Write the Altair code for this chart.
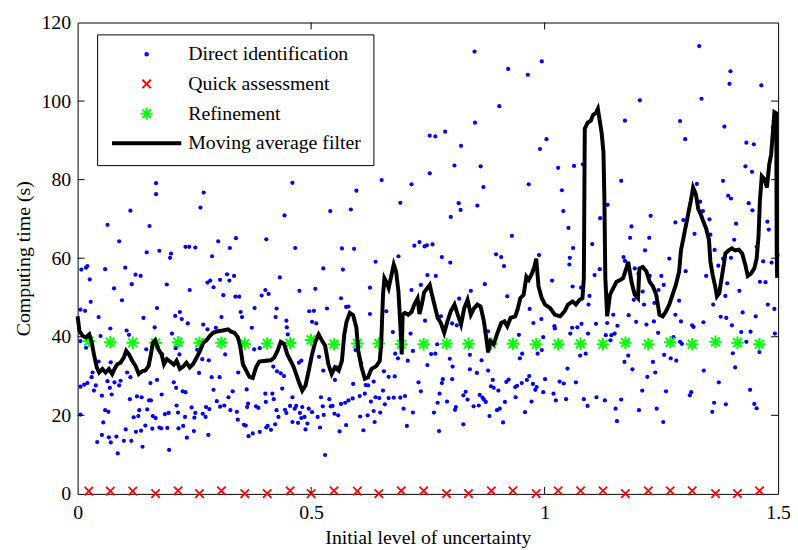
import altair as alt
import pandas as pd

# ---------------- data ----------------
series_names = ["Direct identification", "Quick assessment", "Refinement", "Moving average filter"]
series_colors = ["#0000ff", "#ff0000", "#00ff00", "#000000"]

x_ticks = [0, 0.5, 1, 1.5]
y_ticks = [0, 20, 40, 60, 80, 100, 120]

# x positions of the quick-assessment / refinement runs
run_x = [0.024, 0.070, 0.118, 0.167, 0.215, 0.261, 0.308, 0.358, 0.406, 0.455, 0.500,
         0.549, 0.599, 0.645, 0.693, 0.741, 0.790, 0.837, 0.886, 0.932, 0.982, 1.029,
         1.077, 1.125, 1.173, 1.222, 1.269, 1.316, 1.366, 1.413, 1.460]
quick_y = [0.7, 0.7, 0.7, 0.05, 0.8, 0.05, 0.8, 0.05, 0.05, 0.8, 0.05, 0.8, 0.7, 0.05,
           0.8, 0.8, 0.05, 0.05, 0.8, 0.8, 0.05, 0.8, 0.8, 0.8, 0.05, 0.8, 0.8, 0.8,
           0.05, 0.05, 0.8]
refine_y = [38.9, 38.6, 38.5, 38.4, 38.6, 38.5, 38.5, 38.2, 38.3, 38.4, 39.2, 38.1, 38.3,
            38.3, 38.1, 38.1, 38.2, 38.2, 38.2, 38.2, 38.1, 38.1, 38.2, 38.1, 38.5, 38.1,
            38.6, 38.1, 38.7, 38.5, 38.1]

# direct identification samples, (x, y) per region of the plot
direct_upper_left = [
    (0.168, 79.1), (0.168, 76.3), (0.270, 76.7), (0.113, 72.1), (0.263, 72.9), (0.064, 68.5),
    (0.154, 68.2), (0.089, 64.3), (0.301, 64.3), (0.339, 65.1), (0.326, 62.6), (0.148, 61.5),
    (0.175, 61.9), (0.200, 61.2), (0.231, 62.9), (0.239, 62.9), (0.252, 62.7),
    (0.580, 84.6), (0.460, 79.2), (0.651, 79.9), (0.715, 78.8), (0.597, 77.2), (0.691, 74.1),
    (0.443, 70.9), (0.541, 72.0), (0.585, 72.4), (0.404, 64.8), (0.466, 62.6), (0.566, 62.5),
    (0.592, 62.4), (0.721, 63.2), (0.732, 64.1), (0.743, 63.0), (0.748, 63.3)]
direct_upper_right = [
    (0.850, 112.6), (0.922, 108.2), (0.994, 110.1), (0.964, 106.7), (0.903, 98.7), (0.851, 94.5),
    (0.754, 91.2), (0.766, 91.0), (0.787, 92.2), (0.821, 88.6), (1.004, 90.3), (0.990, 87.8),
    (0.807, 83.6), (0.863, 83.4), (0.754, 81.6), (1.029, 83.0), (1.063, 83.5), (1.082, 83.9),
    (0.869, 78.1), (0.966, 78.8), (1.037, 77.3), (0.816, 74.0), (0.820, 72.3), (0.856, 73.4),
    (0.799, 70.5), (1.040, 72.0), (1.051, 67.7), (1.119, 70.2), (0.930, 65.7), (0.760, 63.5),
    (0.896, 61.0), (0.988, 60.8), (1.061, 62.6), (1.102, 63.6),
    (1.331, 114.0), (1.398, 107.6), (1.396, 104.4), (1.464, 104.0), (1.204, 100.2), (1.336, 100.6),
    (1.172, 95.0), (1.290, 94.9), (1.385, 93.5), (1.301, 90.3), (1.432, 89.4), (1.448, 89.0),
    (1.489, 93.3), (1.430, 83.4), (1.444, 82.0), (1.164, 79.7), (1.382, 79.7), (1.326, 78.9),
    (1.135, 73.6), (1.393, 75.9), (1.399, 75.2), (1.333, 74.4), (1.437, 74.0), (1.445, 72.2),
    (1.339, 72.0), (1.227, 70.8), (1.297, 69.7), (1.280, 69.1), (1.353, 69.9), (1.410, 68.8),
    (1.186, 68.1), (1.477, 69.3), (1.480, 67.3), (1.183, 65.2), (1.224, 65.2), (1.321, 66.2),
    (1.355, 66.0), (1.406, 64.7), (1.215, 62.0), (1.364, 62.1), (1.454, 62.9), (1.499, 60.8)]
direct_lower_a = [
    (0.198, 60.1), (0.288, 60.5), (0.008, 57.1), (0.018, 57.6), (0.021, 58.0), (0.059, 57.2),
    (0.026, 54.6), (0.102, 57.6), (0.124, 55.8), (0.135, 55.5), (0.116, 53.4), (0.078, 52.3),
    (0.191, 53.3), (0.095, 49.3), (0.028, 48.9), (0.240, 51.9), (0.278, 53.8), (0.284, 54.3),
    (0.291, 52.6), (0.305, 54.5), (0.320, 55.9), (0.325, 54.3), (0.335, 55.5), (0.312, 50.6),
    (0.338, 50.2), (0.346, 50.2), (0.379, 47.3), (0.006, 46.9), (0.016, 46.6), (0.045, 45.0),
    (0.141, 44.8), (0.170, 47.3), (0.209, 45.3), (0.219, 46.3), (0.223, 44.5), (0.236, 43.4),
    (0.269, 43.1), (0.308, 45.0), (0.349, 46.3), (0.352, 45.0), (0.070, 42.1), (0.105, 41.6),
    (0.110, 40.5), (0.165, 42.4), (0.202, 40.8), (0.278, 41.9), (0.296, 42.3), (0.373, 42.3),
    (0.049, 40.2), (0.006, 38.9), (0.018, 37.2), (0.045, 33.7), (0.071, 33.5), (0.147, 36.8),
    (0.181, 35.5), (0.191, 34.1), (0.210, 37.1), (0.218, 35.5), (0.256, 36.7), (0.267, 34.3),
    (0.281, 34.0), (0.316, 35.5), (0.032, 30.9), (0.030, 29.7), (0.021, 28.2), (0.006, 27.3),
    (0.014, 27.8), (0.039, 27.6), (0.064, 28.7), (0.079, 28.4), (0.092, 28.8), (0.089, 27.6),
    (0.106, 30.9), (0.113, 29.7), (0.170, 29.0), (0.156, 28.2), (0.206, 28.4), (0.211, 27.0),
    (0.225, 26.1), (0.231, 25.9), (0.260, 30.8), (0.287, 29.7), (0.304, 29.7), (0.332, 26.1),
    (0.344, 30.9), (0.362, 26.6), (0.035, 26.3), (0.052, 25.0), (0.069, 27.0), (0.073, 25.3),
    (0.112, 24.1), (0.127, 24.8), (0.137, 24.6), (0.153, 23.8), (0.157, 23.8), (0.180, 25.3),
    (0.212, 22.5), (0.244, 22.0), (0.275, 22.1), (0.282, 21.6), (0.291, 26.5), (0.298, 23.6),
    (0.305, 22.2), (0.314, 22.5), (0.323, 24.6), (0.327, 21.3), (0.341, 20.9), (0.365, 23.0),
    (0.363, 22.1), (0.006, 20.2), (0.059, 21.3), (0.066, 20.9), (0.055, 18.2), (0.120, 19.5),
    (0.130, 19.8), (0.132, 21.3), (0.149, 21.5), (0.161, 19.8), (0.167, 19.3), (0.187, 20.3),
    (0.195, 20.6), (0.215, 20.7), (0.230, 19.6), (0.250, 19.4), (0.252, 20.6), (0.268, 20.4),
    (0.274, 19.6), (0.343, 18.9), (0.103, 16.4), (0.125, 15.8), (0.136, 16.1), (0.145, 17.4),
    (0.160, 16.6), (0.175, 16.9), (0.179, 16.7), (0.192, 16.8), (0.216, 16.7), (0.226, 17.3),
    (0.249, 16.0), (0.280, 15.0), (0.356, 17.6), (0.360, 17.4), (0.375, 15.4), (0.366, 14.7),
    (0.052, 15.0), (0.067, 14.4), (0.083, 14.6), (0.071, 13.1), (0.042, 13.2), (0.099, 13.5),
    (0.115, 13.5), (0.139, 12.0), (0.086, 10.3), (0.196, 11.2), (0.234, 14.3)]
direct_lower_b = [
    (0.687, 60.5), (0.638, 59.1), (0.526, 57.4), (0.568, 57.1), (0.433, 55.1), (0.749, 55.7),
    (0.394, 50.5), (0.402, 51.9), (0.409, 50.9), (0.475, 51.7), (0.509, 52.2), (0.626, 52.5),
    (0.564, 49.8), (0.426, 47.2), (0.424, 45.0), (0.447, 44.1), (0.448, 42.4), (0.450, 40.6),
    (0.496, 46.5), (0.506, 46.6), (0.502, 43.8), (0.511, 43.4), (0.534, 47.2), (0.575, 47.6),
    (0.580, 47.7), (0.626, 45.8), (0.661, 46.5), (0.715, 51.9), (0.735, 53.2), (0.744, 44.1),
    (0.713, 40.8), (0.675, 41.2), (0.378, 36.8), (0.390, 37.1), (0.419, 32.4), (0.427, 31.2),
    (0.435, 30.7), (0.442, 30.0), (0.474, 33.4), (0.479, 33.9), (0.517, 34.9), (0.526, 31.4),
    (0.555, 32.2), (0.595, 36.6), (0.607, 33.3), (0.551, 29.0), (0.590, 28.0), (0.617, 27.7),
    (0.622, 27.6), (0.634, 28.6), (0.656, 31.2), (0.666, 29.8), (0.679, 29.9), (0.680, 35.7),
    (0.686, 34.5), (0.707, 33.9), (0.718, 36.4), (0.749, 32.8), (0.730, 28.4), (0.735, 26.1),
    (0.666, 24.4), (0.677, 24.5), (0.691, 24.5), (0.701, 24.9), (0.402, 25.5), (0.417, 25.5),
    (0.420, 24.1), (0.438, 26.8), (0.460, 24.6), (0.468, 22.4), (0.455, 22.4), (0.465, 21.7),
    (0.444, 21.4), (0.447, 20.6), (0.481, 22.1), (0.495, 21.7), (0.502, 20.8), (0.521, 24.6),
    (0.539, 24.1), (0.525, 22.3), (0.542, 22.3), (0.546, 22.4), (0.550, 20.4), (0.564, 22.9),
    (0.573, 23.2), (0.580, 23.8), (0.589, 24.3), (0.604, 24.9), (0.615, 25.5), (0.628, 23.5),
    (0.638, 24.6), (0.646, 24.4), (0.654, 26.3), (0.658, 22.8), (0.634, 21.1), (0.648, 20.7),
    (0.698, 21.7), (0.718, 20.7), (0.382, 22.3), (0.387, 21.9), (0.403, 23.4), (0.426, 21.3),
    (0.430, 19.6), (0.476, 20.6), (0.479, 19.3), (0.460, 18.3), (0.472, 18.1), (0.486, 19.6),
    (0.492, 17.9), (0.488, 16.4), (0.514, 19.6), (0.519, 16.9), (0.527, 20.1), (0.558, 20.0),
    (0.561, 15.9), (0.575, 17.5), (0.605, 19.7), (0.621, 20.0), (0.636, 18.3), (0.612, 16.2),
    (0.390, 15.8), (0.404, 16.9), (0.407, 17.3), (0.423, 17.7), (0.414, 16.3), (0.705, 17.3),
    (0.530, 9.9)]
direct_lower_c = [
    (0.780, 60.3), (0.798, 58.9), (0.907, 60.3), (0.913, 58.0), (1.054, 60.1), (1.053, 58.4),
    (1.118, 57.2), (1.107, 55.7), (0.767, 55.5), (0.872, 53.4), (1.016, 54.3), (1.060, 52.8),
    (1.078, 52.5), (0.842, 51.7), (0.920, 50.3), (0.817, 49.7), (1.096, 50.4), (1.094, 48.2),
    (0.968, 47.1), (0.778, 45.2), (0.802, 43.4), (0.812, 42.9), (0.976, 43.5), (0.993, 44.5),
    (1.021, 42.7), (1.022, 42.1), (1.059, 42.3), (1.070, 42.4), (1.079, 43.3), (1.055, 40.8),
    (1.093, 40.8), (1.110, 43.3), (0.945, 40.5), (0.879, 41.4), (0.770, 38.1), (0.757, 35.6),
    (0.766, 35.7), (0.797, 34.4), (0.803, 32.4), (0.839, 37.7), (0.840, 35.4), (0.865, 34.0),
    (0.855, 30.8), (0.840, 31.7), (0.879, 31.4), (0.889, 29.0), (0.918, 28.5), (0.923, 29.1),
    (0.962, 29.0), (0.967, 30.0), (0.937, 27.2), (0.941, 27.5), (0.951, 28.2), (0.952, 35.7),
    (0.947, 34.5), (0.985, 35.7), (0.994, 36.6), (0.997, 39.9), (1.076, 35.2), (1.088, 35.7),
    (1.049, 31.9), (1.067, 28.4), (1.032, 28.6), (1.041, 28.1), (1.001, 29.2), (0.975, 28.0),
    (0.983, 27.2), (0.980, 26.5), (0.997, 25.9), (1.019, 25.5), (1.024, 23.8), (1.046, 24.1),
    (1.084, 24.1), (1.092, 22.4), (1.111, 24.6), (1.129, 23.8), (0.885, 27.4), (0.891, 27.0),
    (0.901, 26.3), (0.861, 25.2), (0.867, 24.5), (0.870, 24.0), (0.874, 23.4), (0.848, 22.3),
    (0.859, 22.5), (0.826, 25.1), (0.831, 26.0), (0.835, 24.0), (0.775, 25.5), (0.771, 23.2),
    (0.791, 23.5), (0.802, 29.2), (0.782, 29.2), (0.780, 28.2), (0.763, 20.7), (0.810, 22.1),
    (0.808, 21.4), (0.915, 23.4), (0.938, 24.6), (0.972, 23.5), (0.904, 21.7), (0.898, 21.3),
    (0.882, 19.8), (0.911, 18.2), (0.958, 20.8), (0.826, 17.7), (0.774, 16.0)]
direct_lower_d = [
    (1.169, 60.3), (1.172, 59.3), (1.267, 59.9), (1.193, 57.4), (1.201, 56.1), (1.225, 55.5),
    (1.250, 55.5), (1.255, 53.2), (1.244, 51.9), (1.210, 51.5), (1.191, 49.4), (1.213, 48.2),
    (1.235, 48.6), (1.288, 49.2), (1.302, 56.7), (1.346, 55.5), (1.372, 58.1), (1.382, 59.9),
    (1.399, 60.1), (1.391, 53.6), (1.387, 50.4), (1.417, 51.7), (1.468, 59.2), (1.486, 58.9),
    (1.461, 54.0), (1.473, 53.9), (1.478, 48.2), (1.492, 47.1), (1.361, 48.2), (1.424, 46.2),
    (1.452, 45.2), (1.377, 45.1), (1.389, 44.8), (1.401, 42.9), (1.421, 41.2), (1.441, 41.3),
    (1.432, 38.7), (1.493, 40.8), (1.460, 36.1), (1.403, 35.8), (1.408, 32.2), (1.341, 31.4),
    (1.373, 28.4), (1.316, 42.9), (1.319, 42.5), (1.340, 43.7), (1.292, 43.9), (1.280, 45.6),
    (1.218, 43.1), (1.234, 43.9), (1.196, 43.8), (1.180, 45.5), (1.147, 45.6), (1.134, 43.5),
    (1.156, 42.8), (1.131, 40.4), (1.143, 40.4), (1.150, 40.8), (1.141, 39.1), (1.243, 41.0),
    (1.276, 39.9), (1.290, 38.7), (1.294, 38.2), (1.256, 35.4), (1.270, 34.5), (1.282, 33.9),
    (1.232, 33.6), (1.220, 29.8), (1.237, 30.9), (1.188, 31.7), (1.171, 33.6), (1.179, 35.2),
    (1.152, 21.7), (1.164, 24.0), (1.155, 18.5), (1.202, 21.3), (1.240, 21.7), (1.254, 18.3),
    (1.209, 26.3), (1.260, 26.1), (1.314, 25.9), (1.311, 25.1), (1.363, 23.2), (1.359, 20.9),
    (1.388, 22.8), (1.440, 26.5), (1.449, 22.9), (1.454, 21.8)]

# moving average filter trace
moving_avg = [
    (0.000, 45.2), (0.004, 41.4), (0.011, 40.2), (0.018, 39.8), (0.025, 40.6), (0.030, 38.7),
    (0.035, 35.5), (0.041, 32.2), (0.046, 30.9), (0.053, 31.8), (0.060, 30.9), (0.067, 31.8),
    (0.074, 30.5), (0.079, 31.8), (0.085, 33.0), (0.092, 33.4), (0.099, 34.7), (0.104, 36.4),
    (0.110, 35.5), (0.117, 33.9), (0.124, 32.6), (0.131, 30.5), (0.138, 31.2), (0.145, 31.4),
    (0.152, 32.6), (0.157, 35.5), (0.161, 38.5), (0.166, 39.1), (0.173, 36.8), (0.180, 35.5),
    (0.185, 33.0), (0.191, 34.3), (0.198, 33.7), (0.206, 32.9), (0.212, 33.9), (0.219, 31.8),
    (0.226, 32.4), (0.233, 33.4), (0.240, 32.2), (0.247, 33.0), (0.255, 34.7), (0.262, 36.4),
    (0.269, 38.5), (0.276, 39.1), (0.283, 40.2), (0.290, 41.0), (0.300, 41.4), (0.311, 41.6),
    (0.322, 41.9), (0.329, 41.3), (0.336, 41.0), (0.343, 39.9), (0.348, 37.7), (0.354, 33.0),
    (0.361, 31.4), (0.368, 29.8), (0.375, 29.5), (0.382, 32.2), (0.389, 33.7), (0.403, 33.9),
    (0.414, 34.0), (0.421, 34.7), (0.428, 36.4), (0.435, 38.7), (0.442, 38.2), (0.449, 35.5),
    (0.456, 33.9), (0.463, 32.2), (0.474, 28.4), (0.481, 26.3), (0.488, 27.6), (0.495, 31.4),
    (0.502, 35.5), (0.509, 38.7), (0.516, 40.6), (0.523, 39.1), (0.530, 37.7), (0.537, 33.0),
    (0.544, 30.5), (0.551, 32.2), (0.559, 31.4), (0.566, 33.9), (0.571, 40.6), (0.576, 43.9),
    (0.583, 46.1), (0.590, 45.5), (0.597, 42.3), (0.601, 36.4), (0.608, 32.2), (0.615, 29.3),
    (0.622, 29.7), (0.629, 31.8), (0.640, 32.6), (0.647, 33.9), (0.650, 38.1), (0.654, 50.7),
    (0.657, 54.9), (0.661, 54.0), (0.666, 52.4), (0.672, 55.7), (0.677, 58.4), (0.682, 56.6),
    (0.687, 51.5), (0.691, 43.1), (0.694, 35.5), (0.696, 45.6), (0.701, 46.1), (0.708, 45.6),
    (0.715, 46.3), (0.721, 48.2), (0.728, 49.8), (0.732, 45.8), (0.737, 48.2), (0.742, 51.3),
    (0.749, 52.4), (0.754, 53.2), (0.758, 51.1), (0.764, 48.2), (0.771, 44.8), (0.778, 43.5),
    (0.785, 41.0), (0.792, 43.9), (0.799, 46.5), (0.807, 48.2), (0.814, 45.6), (0.821, 43.1),
    (0.828, 47.3), (0.835, 49.4), (0.842, 45.6), (0.849, 47.3), (0.856, 48.2), (0.863, 47.7),
    (0.870, 43.9), (0.876, 38.9), (0.879, 36.0), (0.884, 38.9), (0.891, 38.1), (0.898, 40.6),
    (0.907, 43.5), (0.914, 43.9), (0.920, 42.7), (0.927, 44.8), (0.937, 45.2), (0.942, 46.9),
    (0.948, 49.8), (0.955, 50.7), (0.961, 55.3), (0.966, 54.5), (0.973, 56.1), (0.978, 57.8),
    (0.982, 59.9), (0.987, 52.8), (0.994, 49.8), (1.001, 48.2), (1.012, 47.3), (1.022, 45.6),
    (1.033, 45.2), (1.043, 46.5), (1.050, 48.2), (1.060, 49.0), (1.067, 48.2), (1.075, 49.4),
    (1.081, 49.8), (1.084, 54.9), (1.086, 93.0), (1.092, 94.5), (1.099, 95.0), (1.104, 96.5),
    (1.110, 97.0), (1.114, 98.0), (1.118, 95.0), (1.122, 92.0), (1.126, 87.0), (1.128, 75.0),
    (1.130, 55.0), (1.134, 45.2), (1.140, 50.7), (1.147, 52.4), (1.154, 54.0), (1.161, 54.4),
    (1.168, 54.9), (1.175, 57.4), (1.179, 59.1), (1.186, 54.0), (1.193, 50.7), (1.200, 49.8),
    (1.203, 57.4), (1.210, 57.8), (1.218, 56.6), (1.225, 54.0), (1.232, 52.8), (1.239, 50.7),
    (1.246, 45.6), (1.253, 45.2), (1.260, 46.5), (1.267, 48.2), (1.274, 50.7), (1.281, 53.2),
    (1.288, 56.6), (1.292, 62.0), (1.299, 66.2), (1.306, 70.4), (1.313, 74.6), (1.318, 78.0),
    (1.324, 76.3), (1.329, 72.5), (1.334, 71.3), (1.339, 69.6), (1.346, 67.5), (1.352, 64.6),
    (1.355, 59.1), (1.360, 55.7), (1.366, 52.4), (1.369, 50.3), (1.374, 51.1), (1.379, 54.9),
    (1.384, 58.6), (1.387, 61.2), (1.394, 62.0), (1.401, 62.5), (1.408, 62.0), (1.416, 62.2),
    (1.423, 61.2), (1.430, 58.2), (1.435, 55.5), (1.442, 56.1), (1.449, 57.4), (1.454, 59.9),
    (1.458, 65.4), (1.461, 74.6), (1.465, 80.9), (1.471, 80.1), (1.476, 78.0), (1.481, 83.9),
    (1.485, 86.4), (1.489, 92.3), (1.492, 97.2), (1.496, 96.9), (1.497, 61.0), (1.498, 55.0)]

# ---------------- tables ----------------
direct_pts = (direct_upper_left + direct_upper_right + direct_lower_a + direct_lower_b
              + direct_lower_c + direct_lower_d)
direct_df = pd.DataFrame(direct_pts, columns=["x", "y"])
quick_df = pd.DataFrame({"x": run_x, "y": quick_y})
refine_df = pd.DataFrame({"x": run_x, "y": refine_y})
ma_df = pd.DataFrame(moving_avg, columns=["x", "y"])
ma_df["i"] = range(len(ma_df))
legend_df = pd.DataFrame({"series": series_names})
ytick_df = pd.DataFrame({"y": y_ticks[1:-1]})
xtick_df = pd.DataFrame({"x": x_ticks[1:-1]})

W, H = 707.4, 476
FONT = "Liberation Serif"

X = alt.X("x:Q", scale=alt.Scale(domain=[0, 1.5], nice=False, zero=False),
          axis=alt.Axis(values=x_ticks, format="~g", title="Initial level of uncertainty",
                        grid=False, tickSize=0, domain=False, labelPadding=9,
                        titlePadding=5, labelFlush=False))
Y = alt.Y("y:Q", scale=alt.Scale(domain=[0, 120], nice=False, zero=False),
          axis=alt.Axis(values=y_ticks, title="Computing time (s)", grid=False, tickSize=0,
                        domain=False, labelPadding=7, titlePadding=8, labelFlush=False))

X_SHAPE = "M-1,-1L1,1M-1,1L1,-1"
STAR_SHAPE = "M-1,0L1,0M0,-1L0,1M-0.71,-0.71L0.71,0.71M-0.71,0.71L0.71,-0.71"

dots = alt.Chart(direct_df).mark_point(shape="circle", filled=True, size=18,
                                       color=series_colors[0], opacity=1).encode(x=X, y=Y)
quick = alt.Chart(quick_df).mark_point(shape=X_SHAPE, filled=False, size=72, strokeWidth=1.8,
                                       color=series_colors[1], opacity=1).encode(x=X, y=Y)
refine = alt.Chart(refine_df).mark_point(shape=STAR_SHAPE, filled=False, size=160,
                                         strokeWidth=2, color=series_colors[2],
                                         opacity=1).encode(x=X, y=Y)
ma_line = alt.Chart(ma_df).mark_line(color="black", strokeWidth=4).encode(
    x=X, y=Y, order="i:Q")

tick_left = alt.Chart(ytick_df).mark_rule(color="black").encode(
    y=Y, x=alt.value(0), x2=alt.value(7))
tick_right = alt.Chart(ytick_df).mark_rule(color="black").encode(
    y=Y, x=alt.value(W), x2=alt.value(W - 7))
tick_bottom = alt.Chart(xtick_df).mark_rule(color="black").encode(
    x=X, y=alt.value(H), y2=alt.value(H - 7))
tick_top = alt.Chart(xtick_df).mark_rule(color="black").encode(
    x=X, y=alt.value(0), y2=alt.value(7))

# legend symbols (uniform legend symbol size, shapes scaled inside)
legend_shapes = [
    "M0.038,0A0.038,0.038,0,1,1,-0.038,0A0.038,0.038,0,1,1,0.038,0Z",
    "M-0.125,-0.125L0.125,0.125M-0.125,0.125L0.125,-0.125",
    "M-0.18,0L0.18,0M0,-0.18L0,0.18M-0.127,-0.127L0.127,0.127M-0.127,0.127L0.127,-0.127",
    "M-1,-0.03L1,-0.03L1,0.03L-1,0.03Z",
]
leg = alt.Legend(title=None, orient="none", legendX=19.7, legendY=12, padding=12,
                 rowPadding=10, clipHeight=16, symbolSize=4624, symbolStrokeWidth=2,
                 symbolOffset=3, labelOffset=7, labelFont=FONT, labelFontSize=20,
                 labelColor="black", labelLimit=400, fillColor="white",
                 strokeColor="black")
legend_layer = alt.Chart(legend_df).mark_point(filled=False, opacity=1).encode(
    color=alt.Color("series:N", scale=alt.Scale(domain=series_names, range=series_colors),
                    legend=leg),
    shape=alt.Shape("series:N", scale=alt.Scale(domain=series_names, range=legend_shapes),
                    legend=leg),
).transform_filter("false")

chart = alt.layer(
    dots, quick, refine, ma_line, tick_left, tick_right, tick_bottom, tick_top, legend_layer
).properties(
    width=W, height=H,
    autosize=alt.AutoSizeParams(type="none"),
    padding={"left": 70.3, "top": 12, "right": 12, "bottom": 54},
).configure_view(
    stroke="black", strokeWidth=1
).configure_axis(
    labelFont=FONT, labelFontSize=20, labelColor="black",
    titleFont=FONT, titleFontSize=20, titleFontWeight="normal", titleColor="black",
)

chart.save("out.html", embed_options={"renderer": "svg", "actions": False})
